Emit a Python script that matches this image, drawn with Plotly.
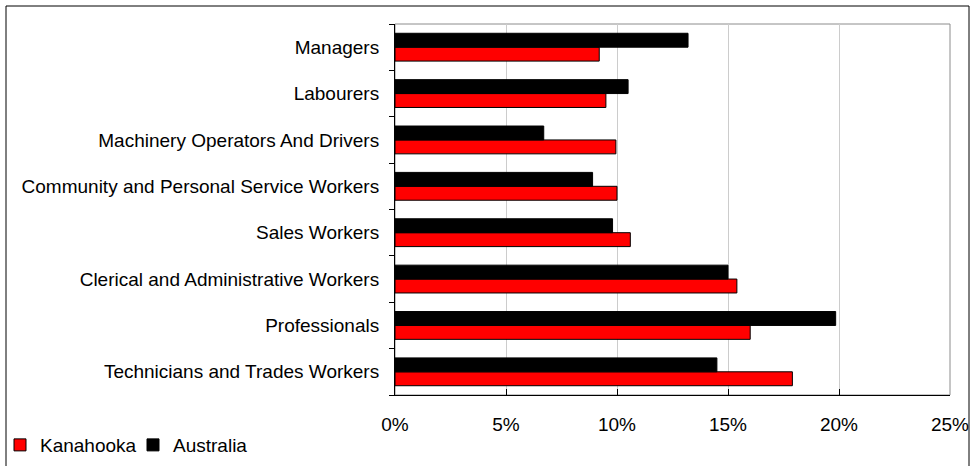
import plotly.graph_objects as go

categories = [
    "Technicians and Trades Workers",
    "Professionals",
    "Clerical and Administrative Workers",
    "Sales Workers",
    "Community and Personal Service Workers",
    "Machinery Operators And Drivers",
    "Labourers",
    "Managers",
]
kanahooka = [17.9, 16.0, 15.4, 10.6, 10.0, 9.95, 9.5, 9.2]
australia = [14.5, 19.85, 15.0, 9.8, 8.9, 6.7, 10.5, 13.2]
x_ticks = [0, 5, 10, 15, 20, 25]
x_tick_labels = ["0%", "5%", "10%", "15%", "20%", "25%"]

W, H = 971, 466
ML, MR, MT, MB = 395, 21, 24, 71
PW, PH = W - ML - MR, H - MT - MB

FONT = "Liberation Sans, Arial, sans-serif"

fig = go.Figure()
fig.add_trace(go.Bar(
    y=categories, x=kanahooka, orientation="h", name="Kanahooka",
    marker=dict(color="#ff0000", line=dict(color="#000000", width=1)),
))
fig.add_trace(go.Bar(
    y=categories, x=australia, orientation="h", name="Australia",
    marker=dict(color="#000000", line=dict(color="#000000", width=1)),
))

def px_x(p):
    return (p - ML) / PW

def px_y(p):
    return (H - MB - p) / PH

shapes = [
    # plot area border (gray)
    dict(type="rect", xref="paper", yref="paper", x0=0, x1=1, y0=0, y1=1,
         line=dict(color="#8c8c8c", width=1), layer="below"),
    # outer chart frame
    dict(type="rect", xref="paper", yref="paper",
         x0=px_x(6), x1=px_x(969), y0=px_y(475), y1=px_y(6),
         line=dict(color="#000000", width=1), layer="above"),
]

fig.update_layout(
    width=W, height=H,
    margin=dict(l=ML, r=MR, t=MT, b=MB, autoexpand=False),
    paper_bgcolor="white", plot_bgcolor="white",
    barmode="group", bargap=0.4, bargroupgap=0,
    font=dict(family=FONT, size=19, color="#000000"),
    showlegend=True,
    legend=dict(orientation="h", xref="container", yref="container",
                x=-0.004, y=0.045, xanchor="left", yanchor="middle",
                font=dict(size=19), itemwidth=30, tracegroupgap=0,
                entrywidth=88,
                traceorder="normal", bgcolor="rgba(0,0,0,0)"),
    shapes=shapes,
)
fig.update_xaxes(
    range=[0, 25], tickvals=x_ticks, ticktext=x_tick_labels,
    showgrid=True, gridcolor="#cccccc", gridwidth=1,
    showline=True, linecolor="#000000", linewidth=1,
    ticks="inside", ticklen=6, tickcolor="#000000",
    ticklabelstandoff=12, zeroline=False, fixedrange=True, automargin=False,
)
fig.update_yaxes(
    showgrid=False, showline=True, linecolor="#000000", linewidth=1,
    ticks="outside", ticklen=5, tickcolor="#000000",
    tickson="boundaries", ticklabelstandoff=11,
    zeroline=False, fixedrange=True, automargin=False,
)

fig.write_html(
    "out.html",
    config={"displayModeBar": False},
    post_script="document.body.style.margin='0';document.body.style.overflow='hidden';",
)
